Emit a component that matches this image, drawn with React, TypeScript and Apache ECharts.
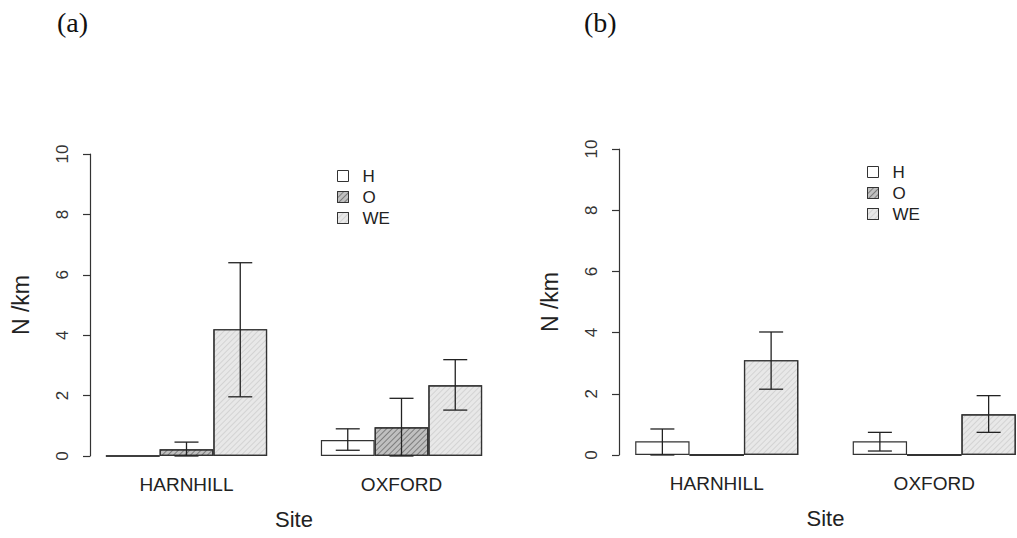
import React, { useEffect, useRef } from "react";
import * as echarts from "echarts";

const categories = ["HARNHILL", "OXFORD"];
const seriesNames = ["H", "O", "WE"];
const yTicks = [0, 2, 4, 6, 8, 10];

// panel (a)
const aH = [0, 0.53];
const aO = [0.22, 0.95];
const aWE = [4.2, 2.34];
const aHErr: (number[] | null)[] = [null, [0.19, 0.9]];
const aOErr: (number[] | null)[] = [[0, 0.46], [0, 1.91]];
const aWEErr: (number[] | null)[] = [[1.96, 6.4], [1.52, 3.19]];

// panel (b)
const bH = [0.45, 0.45];
const bO = [0, 0];
const bWE = [3.1, 1.33];
const bHErr: (number[] | null)[] = [[0, 0.85], [0.13, 0.74]];
const bOErr: (number[] | null)[] = [null, null];
const bWEErr: (number[] | null)[] = [[2.15, 4.02], [0.74, 1.94]];

const FONT = "Liberation Sans, Arial, sans-serif";
const INK = "#222";

const styles = [
  { color: "#ffffff", decal: undefined as any },
  {
    color: "#c0c0c0",
    decal: { symbol: "rect", dashArrayX: [1, 0], dashArrayY: [1, 3], rotation: -Math.PI / 4, color: "rgba(0,0,0,0.35)", symbolSize: 1 },
  },
  {
    color: "#e8e8e8",
    decal: { symbol: "rect", dashArrayX: [1, 0], dashArrayY: [1, 3], rotation: -Math.PI / 4, color: "rgba(0,0,0,0.09)", symbolSize: 1 },
  },
];

function buildErrData(vals: number[][], errs: (number[] | null)[][]) {
  const out: any[] = [];
  for (let s = 0; s < vals.length; s++) {
    for (let c = 0; c < categories.length; c++) {
      const e = errs[s][c];
      out.push([c, s, e ? e[0] : vals[s][c], e ? e[1] : vals[s][c], vals[s][c], e ? 1 : 0]);
    }
  }
  return out;
}

function renderErr(params: any, api: any) {
  const cat = api.value(0);
  const s = api.value(1);
  const low = api.value(2);
  const high = api.value(3);
  const v = api.value(4);
  const hasErr = api.value(5);
  const band = api.size([1, 0])[0];
  const bw = band * 0.25;
  const center = api.coord([cat, 0]);
  const x = center[0] + (s - 1) * bw;
  const children: any[] = [];
  const ls = { stroke: INK, lineWidth: 1.3 };
  if (v === 0) {
    children.push({ type: "line", shape: { x1: x - bw / 2, y1: center[1], x2: x + bw / 2, y2: center[1] }, style: ls });
  }
  if (hasErr) {
    const pl = api.coord([cat, low]);
    const ph = api.coord([cat, high]);
    const cap = 12;
    children.push({ type: "line", shape: { x1: x, y1: pl[1], x2: x, y2: ph[1] }, style: ls });
    children.push({ type: "line", shape: { x1: x - cap, y1: ph[1], x2: x + cap, y2: ph[1] }, style: ls });
    children.push({ type: "line", shape: { x1: x - cap, y1: pl[1], x2: x + cap, y2: pl[1] }, style: ls });
  }
  return { type: "group", children };
}

function axesFor(idx: number, yOffset: number, nameGap: number) {
  const x = {
    type: "category",
    gridIndex: idx,
    data: categories,
    axisLine: { show: false },
    axisTick: { show: false },
    axisLabel: { fontSize: 19, color: INK, fontFamily: FONT, margin: 19 },
    name: "Site",
    nameLocation: "middle",
    nameGap: 52,
    nameTextStyle: { fontSize: 22, color: INK, fontFamily: FONT },
  };
  const y = {
    type: "value",
    gridIndex: idx,
    min: 0,
    max: 10,
    interval: 2,
    offset: yOffset,
    axisLine: { show: true, lineStyle: { color: "#333", width: 1.2 } },
    axisTick: { show: true, length: 7, lineStyle: { color: "#333", width: 1.2 } },
    axisLabel: { rotate: 90, fontSize: 17, color: "#333", fontFamily: FONT, margin: 19, formatter: (v: number) => (yTicks.includes(v) ? String(v) : "") },
    splitLine: { show: false },
    name: "N /km",
    nameLocation: "middle",
    nameRotate: 90,
    nameGap,
    nameTextStyle: { fontSize: 23, color: INK, fontFamily: FONT },
  };
  return { x, y };
}

export default function App() {
  const ref = useRef<HTMLDivElement>(null);
  useEffect(() => {
    if (!ref.current) return;
    const chart = echarts.init(ref.current, undefined, { renderer: "svg" });
    const a = axesFor(0, -11, 58);
    const b = axesFor(1, -11, 58);
    const barSeries = (gi: number, vals: number[][]) =>
      vals.map((d, s) => ({
        type: "bar",
        name: seriesNames[s],
        xAxisIndex: gi,
        yAxisIndex: gi,
        data: d,
        barWidth: "25%",
        barGap: "0%",
        itemStyle: { color: styles[s].color, decal: styles[s].decal, borderColor: "#333", borderWidth: 1.2 },
        emphasis: { disabled: true },
      }));
    const legendBase = {
      orient: "vertical",
      icon: "rect",
      itemWidth: 11,
      itemHeight: 11,
      itemGap: 3,
      padding: 0,
      data: seriesNames,
      selectedMode: false,
      textStyle: { fontSize: 17, lineHeight: 18, color: INK, fontFamily: FONT, padding: [0, 0, 0, 9] },
      itemStyle: { borderColor: "#333", borderWidth: 1 },
    };
    chart.setOption({
      animation: false,
      backgroundColor: "#fff",
      grid: [
        { left: 79, top: 154, width: 430, height: 302, outerBoundsMode: "none" },
        { left: 608, top: 149, width: 435, height: 306, outerBoundsMode: "none" },
      ],
      xAxis: [a.x, b.x],
      yAxis: [a.y, b.y],
      legend: [
        { ...legendBase, left: 337, top: 167 },
        { ...legendBase, left: 867, top: 163 },
      ],
      graphic: [
        { type: "text", left: 57, top: 8, style: { text: "(a)", fontSize: 28, fontFamily: "Liberation Serif, Times New Roman, serif", fill: "#111" } },
        { type: "text", left: 584, top: 8, style: { text: "(b)", fontSize: 28, fontFamily: "Liberation Serif, Times New Roman, serif", fill: "#111" } },
      ],
      series: [
        ...barSeries(0, [aH, aO, aWE]),
        ...barSeries(1, [bH, bO, bWE]),
        {
          type: "custom",
          xAxisIndex: 0,
          yAxisIndex: 0,
          renderItem: renderErr,
          data: buildErrData([aH, aO, aWE], [aHErr, aOErr, aWEErr]),
          z: 5,
          silent: true,
        },
        {
          type: "custom",
          xAxisIndex: 1,
          yAxisIndex: 1,
          renderItem: renderErr,
          data: buildErrData([bH, bO, bWE], [bHErr, bOErr, bWEErr]),
          z: 5,
          silent: true,
        },
      ],
    });
    return () => chart.dispose();
  }, []);
  return <div ref={ref} style={{ position: "fixed", left: 0, top: 0, width: 1017, height: 538 }} />;
}
